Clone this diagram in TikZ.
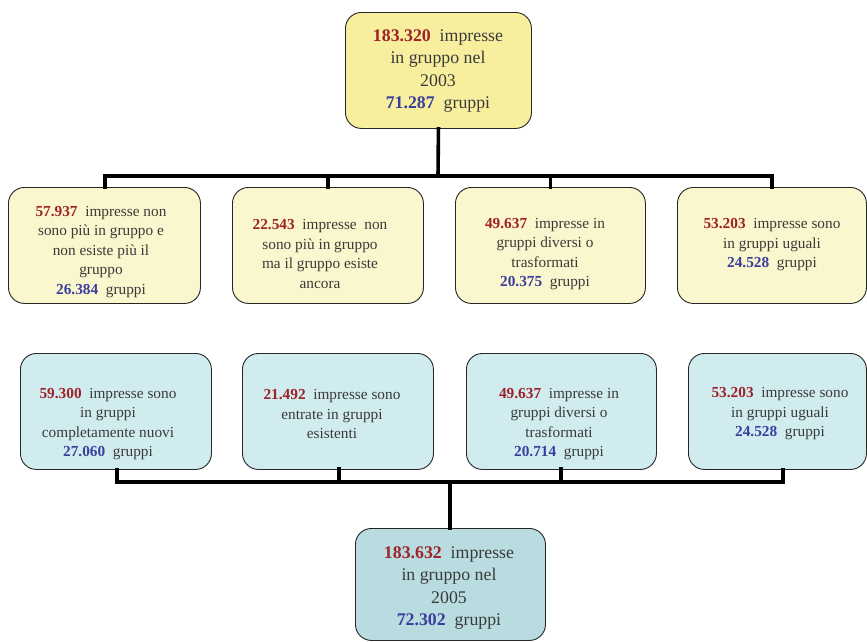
\documentclass[tikz,border=0pt]{standalone}
\usepackage{fontspec}
\setmainfont{Liberation Serif}
\definecolor{numred}{HTML}{9E2228}
\definecolor{numblue}{HTML}{3A3E9C}
\definecolor{txtgray}{HTML}{3A3A3A}
\definecolor{yellowtop}{HTML}{F7EF9E}
\definecolor{yellowrow}{HTML}{FAF6CD}
\definecolor{bluerow}{HTML}{D0ECEF}
\definecolor{bluebot}{HTML}{B8DCDF}
\newcommand{\rn}[1]{\textcolor{numred}{\textbf{#1}}\enspace}
\newcommand{\bn}[1]{\textcolor{numblue}{\textbf{#1}}\enspace}
\begin{document}
\begin{tikzpicture}[x=1pt,y=-1pt,
  card/.style={draw=black!85, line width=0.9pt, rounded corners=16pt, inner sep=0pt, anchor=north west},
  big/.style={text=txtgray, align=center, font=\fontsize{17.8}{22.5}\selectfont, inner sep=0pt},
  small/.style={text=txtgray, align=center, font=\fontsize{15.3}{19.5}\selectfont, inner sep=0pt},
  conn/.style={line width=3.6pt, line cap=rect}]
\useasboundingbox (0,0) rectangle (867,641);
\clip (0,0) rectangle (867,641);

% boxes
\node[card, fill=yellowtop, minimum width=186pt, minimum height=116pt] (top) at (345,12) {};
\node[card, fill=yellowrow, minimum width=192pt, minimum height=116pt] (a1) at (8,187) {};
\node[card, fill=yellowrow, minimum width=191pt, minimum height=116pt] (a2) at (232,187) {};
\node[card, fill=yellowrow, minimum width=190pt, minimum height=116pt] (a3) at (455,187) {};
\node[card, fill=yellowrow, minimum width=189pt, minimum height=116pt] (a4) at (677,187) {};
\node[card, fill=bluerow, minimum width=191pt, minimum height=116pt] (b1) at (20,353) {};
\node[card, fill=bluerow, minimum width=191pt, minimum height=116pt] (b2) at (242,353) {};
\node[card, fill=bluerow, minimum width=190pt, minimum height=116pt] (b3) at (466,353) {};
\node[card, fill=bluerow, minimum width=178pt, minimum height=116pt] (b4) at (688,353) {};
\node[card, fill=bluebot, minimum width=190pt, minimum height=112pt] (bot) at (355,528) {};

% texts
\node[big] (ttop) at (438,71) {\rn{183.320}impresse\\in gruppo nel\\2003\\\bn{71.287}gruppi};
\node[small] (ta1) at (101,252) {\rn{57.937}impresse non\\sono più in gruppo e\\non esiste più il\\gruppo\\\bn{26.384}gruppi};
\node[small] (ta2) at (320,254) {\rn{22.543}impresse\ \ non\\sono più in gruppo\\ma il gruppo esiste\\ancora};
\node[small] (ta3) at (545,254) {\rn{49.637}impresse in\\gruppi diversi o\\trasformati\\\bn{20.375}gruppi};
\node[small] (ta4) at (772,245) {\rn{53.203}impresse sono\\in gruppi uguali\\\bn{24.528}gruppi};
\node[small] (tb1) at (108,424) {\rn{59.300}impresse sono\\in gruppi\\completamente nuovi\\\bn{27.060}gruppi};
\node[small] (tb2) at (332,414) {\rn{21.492}impresse sono\\entrate in gruppi\\esistenti};
\node[small] (tb3) at (559,424) {\rn{49.637}impresse in\\gruppi diversi o\\trasformati\\\bn{20.714}gruppi};
\node[small] (tb4) at (780,414) {\rn{53.203}impresse sono\\in gruppi uguali\\\bn{24.528}gruppi};
\node[big] (tbot) at (449,588) {\rn{183.632}impresse\\in gruppo nel\\2005\\\bn{72.302}gruppi};

% connectors
\coordinate (busT) at (438,176);
\coordinate (busTL) at (105,176);
\coordinate (busTR) at (772,176);
\draw[conn] (top.south) -- (busT);
\draw[conn] (busTL) -- (busTR);
\draw[conn] (busTL) -- (busTL |- a1.north);
\draw[conn] (a2.north |- busT) -- (a2.north);
\draw[conn] (a3.north |- busT) -- (a3.north);
\draw[conn] (busTR) -- (busTR |- a4.north);

\coordinate (busB) at (450,482);
\coordinate (busBL) at (117,482);
\coordinate (busBR) at (783,482);
\draw[conn] (busBL) -- (busBR);
\draw[conn] (busBL |- b1.south) -- (busBL);
\draw[conn] (339,469) coordinate (b2drop) -- (b2drop |- busB);
\draw[conn] (561,469) coordinate (b3drop) -- (b3drop |- busB);
\draw[conn] (busBR |- b4.south) -- (busBR);
\draw[conn] (busB) -- (bot.north -| busB);
\end{tikzpicture}
\end{document}
